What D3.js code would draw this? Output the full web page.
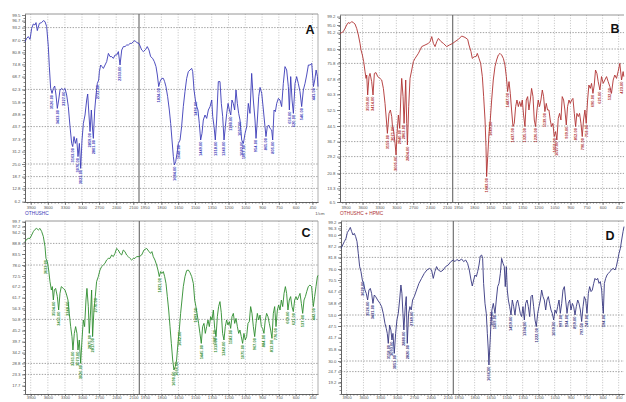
<!DOCTYPE html>
<html><head><meta charset="utf-8">
<script src="https://cdn.jsdelivr.net/npm/d3@7"></script>
<style>
body{margin:0;background:#fff;}
svg{display:block;font-family:"Liberation Sans",Arial,sans-serif;}
</style>
</head><body>
<svg id="c" width="626" height="402"></svg>
<script>
// ---------- DATA (wavenumber cm-1, %T) ----------
const specA = [[4000,86.2],[3971,87.8],[3942,88.7],[3912,87.3],[3883,92.8],[3854,95.0],[3825,94.5],[3807,95.7],[3784,91.7],[3748,95.3],[3708,95.7],[3678,96.7],[3649,96.2],[3620,93.7],[3591,83.7],[3573,73.7],[3550,62.8],[3526,60.3],[3503,62.8],[3479,64.0],[3456,59.5],[3433,52.8],[3409,57.0],[3386,62.0],[3357,62.8],[3327,62.0],[3298,62.8],[3269,59.5],[3240,53.7],[3210,43.7],[3181,35.3],[3163,33.7],[3140,38.7],[3117,35.3],[3093,37.8],[3070,28.7],[3046,35.3],[3023,22.8],[3000,37.0],[2976,45.3],[2947,49.5],[2918,57.0],[2900,60.0],[2883,52.0],[2859,41.2],[2836,52.0],[2818,43.7],[2801,37.8],[2777,52.0],[2754,59.5],[2731,65.3],[2707,67.0],[2695,71.2],[2672,74.5],[2649,73.7],[2625,72.8],[2596,74.5],[2567,76.2],[2537,80.3],[2508,78.7],[2479,78.7],[2450,77.8],[2420,79.5],[2391,79.5],[2362,81.2],[2333,74.5],[2303,82.0],[2274,83.7],[2245,83.7],[2216,84.5],[2186,84.5],[2157,85.3],[2128,85.3],[2099,86.2],[2070,86.7],[2040,85.7],[2000,85.3],
[1976,82.0],[1961,81.2],[1940,82.3],[1926,83.7],[1911,82.0],[1896,78.7],[1878,77.8],[1863,76.2],[1848,73.7],[1836,69.5],[1824,63.7],[1812,66.2],[1797,67.8],[1782,67.8],[1771,66.2],[1759,63.7],[1744,58.7],[1729,52.0],[1717,45.3],[1705,37.0],[1693,28.7],[1684,24.5],[1672,26.2],[1660,30.3],[1648,35.3],[1633,37.0],[1619,43.7],[1604,53.7],[1589,61.2],[1574,67.8],[1559,71.2],[1544,72.0],[1529,72.8],[1520,71.2],[1508,62.0],[1496,57.0],[1484,53.7],[1473,52.0],[1461,45.3],[1449,37.0],[1437,40.3],[1425,47.0],[1410,49.5],[1395,47.8],[1380,52.0],[1365,53.7],[1350,57.0],[1341,48.7],[1329,43.7],[1318,37.0],[1306,47.0],[1291,66.2],[1276,66.2],[1264,55.3],[1252,48.7],[1240,37.0],[1228,43.7],[1216,50.3],[1204,55.3],[1192,52.0],[1180,49.5],[1169,57.0],[1157,55.3],[1145,52.0],[1133,62.0],[1121,55.3],[1109,50.3],[1097,47.0],[1082,37.0],[1067,35.3],[1052,40.3],[1037,43.7],[1023,55.3],[1008,50.3],[993,70.3],[978,57.0],[963,47.0],[954,37.8],[942,47.0],[930,58.7],[918,63.3],[903,60.3],[888,52.0],[874,43.7],[865,38.7],[853,43.7],[841,44.5],[829,42.8],[814,42.0],[805,37.0],[793,52.0],[781,51.2],[769,55.3],[754,57.8],[740,57.0],[725,53.7],[710,65.3],[695,73.7],[680,72.0],[665,63.7],[656,52.0],[644,68.7],[632,57.0],[620,50.3],[605,65.3],[591,68.7],[576,65.3],[561,61.2],[546,53.7],[531,62.0],[516,65.3],[501,69.5],[486,74.5],[471,74.5],[456,75.3],[441,63.7],[429,67.0],[417,72.0],[405,68.7],[400,63.7]];

const specB = [[4000,90.8],[3970,91.2],[3941,91.7],[3911,93.3],[3882,95.0],[3852,96.2],[3822,95.8],[3793,96.7],[3763,96.2],[3734,95.5],[3704,93.3],[3674,90.0],[3645,85.8],[3627,82.5],[3603,80.0],[3580,76.7],[3556,71.7],[3538,68.3],[3526,70.0],[3509,60.0],[3485,69.2],[3467,70.8],[3438,66.7],[3414,60.0],[3390,70.8],[3361,71.2],[3331,69.2],[3290,68.3],[3260,67.5],[3230,63.3],[3201,55.8],[3177,47.5],[3159,40.8],[3130,50.8],[3106,52.5],[3082,49.2],[3071,45.0],[3047,41.7],[3023,35.8],[3005,30.0],[2988,40.8],[2964,50.0],[2940,43.3],[2923,57.5],[2905,68.3],[2881,59.2],[2863,45.8],[2846,57.5],[2834,67.5],[2816,45.8],[2804,35.0],[2781,54.2],[2757,68.3],[2727,72.5],[2698,76.7],[2668,78.3],[2609,80.8],[2550,84.2],[2491,85.0],[2431,85.8],[2402,86.7],[2372,89.2],[2343,85.8],[2313,84.2],[2283,86.7],[2254,88.3],[2207,86.7],[2165,85.8],[2107,84.2],[2059,85.0],[2000,85.8],
[1978,86.7],[1947,87.8],[1916,89.5],[1885,88.8],[1860,87.8],[1848,85.0],[1829,81.7],[1817,78.3],[1798,79.2],[1782,79.2],[1770,80.8],[1754,78.3],[1739,75.8],[1723,69.2],[1711,59.2],[1698,47.5],[1689,34.2],[1683,19.2],[1673,29.2],[1661,40.8],[1649,47.5],[1636,57.5],[1621,67.5],[1605,74.2],[1590,77.5],[1574,80.0],[1558,80.8],[1543,80.0],[1527,78.3],[1512,75.0],[1499,69.2],[1487,61.7],[1474,66.7],[1462,60.8],[1450,52.5],[1437,44.2],[1425,45.8],[1412,54.2],[1400,57.5],[1387,54.2],[1375,56.7],[1362,54.2],[1350,57.5],[1338,50.0],[1325,44.2],[1313,57.5],[1300,59.2],[1288,52.5],[1275,57.5],[1263,63.3],[1250,59.2],[1238,47.5],[1226,44.2],[1213,52.5],[1201,57.5],[1189,54.2],[1176,57.5],[1163,62.5],[1151,59.2],[1139,51.7],[1126,55.8],[1114,52.5],[1101,52.5],[1089,47.5],[1077,44.2],[1064,45.8],[1052,39.2],[1039,41.7],[1027,37.5],[1014,48.3],[1002,50.8],[989,47.5],[977,59.2],[964,57.5],[952,52.5],[939,45.0],[927,54.2],[914,57.5],[902,55.8],[889,57.5],[877,58.3],[864,50.8],[852,44.2],[840,50.8],[827,49.2],[815,50.8],[802,45.8],[790,39.2],[778,47.5],[765,52.5],[753,45.8],[740,57.5],[728,65.0],[715,63.3],[703,65.8],[690,60.8],[678,65.0],[666,72.5],[653,70.8],[641,66.7],[625,62.5],[610,69.2],[594,65.8],[579,67.5],[563,69.2],[548,66.7],[532,64.2],[517,60.8],[501,67.5],[486,70.0],[470,68.3],[455,71.7],[439,75.8],[423,67.5],[408,71.7],[402,69.2]];

const specC = [[4000,89.7],[3971,90.8],[3942,91.3],[3913,91.3],[3883,93.0],[3854,94.7],[3825,95.8],[3796,96.3],[3767,95.5],[3738,96.3],[3708,94.7],[3679,92.2],[3650,87.2],[3633,81.3],[3609,79.7],[3586,75.5],[3563,69.7],[3539,65.5],[3522,67.2],[3504,60.5],[3487,65.5],[3464,66.3],[3434,62.2],[3411,55.5],[3388,63.8],[3365,67.2],[3330,66.3],[3300,65.5],[3271,63.0],[3248,60.5],[3225,53.8],[3201,47.2],[3178,42.2],[3161,35.5],[3137,43.8],[3114,47.2],[3091,43.8],[3073,35.5],[3050,40.5],[3026,28.8],[3003,40.5],[2980,50.5],[2957,47.2],[2933,60.5],[2916,66.3],[2892,57.2],[2875,43.8],[2851,55.5],[2834,65.5],[2817,42.2],[2794,55.5],[2770,62.2],[2747,69.7],[2717,72.2],[2688,75.5],[2659,77.2],[2630,78.0],[2601,78.8],[2572,80.5],[2543,81.3],[2513,81.3],[2484,83.0],[2455,82.2],[2426,83.8],[2397,86.3],[2368,85.5],[2338,83.8],[2309,83.0],[2280,85.5],[2251,84.7],[2222,83.0],[2193,82.2],[2163,81.3],[2134,80.5],[2105,81.3],[2076,81.3],[2047,82.2],[2000,82.2],
[1979,83.0],[1958,85.5],[1934,86.3],[1913,84.7],[1899,83.8],[1887,84.7],[1875,82.2],[1860,80.5],[1845,78.0],[1833,75.5],[1821,72.2],[1809,74.7],[1797,73.8],[1785,74.7],[1773,72.2],[1761,68.8],[1749,62.2],[1737,55.5],[1725,47.2],[1713,38.8],[1701,30.5],[1690,25.5],[1678,27.2],[1666,30.5],[1654,38.8],[1642,45.5],[1630,53.8],[1618,60.5],[1606,67.2],[1591,72.2],[1576,75.2],[1561,75.5],[1546,74.2],[1531,72.2],[1516,68.8],[1504,60.5],[1493,57.2],[1481,53.0],[1469,48.8],[1457,43.8],[1445,38.8],[1433,47.2],[1421,48.8],[1409,43.8],[1397,47.2],[1385,50.5],[1373,47.2],[1361,52.2],[1349,50.5],[1337,55.5],[1325,46.3],[1313,42.2],[1301,52.2],[1290,57.2],[1278,59.7],[1266,54.2],[1254,43.8],[1242,40.5],[1230,47.2],[1218,50.5],[1206,48.0],[1194,49.7],[1182,46.3],[1170,52.2],[1158,53.8],[1146,48.8],[1134,51.3],[1122,47.2],[1110,43.8],[1099,45.5],[1087,42.2],[1075,38.8],[1063,43.8],[1051,40.5],[1039,42.2],[1027,48.8],[1015,49.7],[1003,57.2],[991,53.8],[979,47.2],[967,42.2],[955,48.8],[943,53.8],[931,50.5],[919,53.0],[907,47.2],[896,46.3],[884,43.8],[872,50.5],[860,53.8],[848,52.2],[836,48.8],[824,45.5],[812,41.3],[800,53.8],[788,57.2],[776,47.2],[764,55.5],[752,58.0],[740,55.5],[728,60.5],[716,57.2],[704,63.8],[692,67.2],[681,63.8],[669,55.5],[657,60.5],[645,62.2],[633,57.2],[621,54.7],[609,60.5],[597,62.2],[585,60.5],[573,62.2],[561,63.8],[549,58.8],[537,53.8],[525,60.5],[513,62.2],[501,64.7],[487,67.2],[472,68.0],[457,67.2],[442,57.2],[430,62.2],[418,67.2],[406,72.0],[400,72.8]];

const specD = [[4000,86.3],[3970,88.0],[3941,89.7],[3911,91.3],[3887,94.2],[3858,95.5],[3834,96.8],[3810,94.7],[3787,93.0],[3763,93.8],[3739,92.2],[3715,89.7],[3692,83.8],[3668,77.2],[3644,74.7],[3620,70.5],[3597,68.8],[3573,65.5],[3550,63.8],[3526,60.5],[3502,65.5],[3478,66.3],[3455,63.8],[3431,58.8],[3407,63.0],[3383,62.2],[3348,60.5],[3306,58.8],[3277,57.2],[3247,53.8],[3217,48.8],[3194,46.3],[3176,43.8],[3158,38.8],[3134,48.0],[3111,45.5],[3093,40.5],[3075,43.8],[3051,33.8],[3027,43.8],[3004,50.5],[2980,53.8],[2956,60.5],[2933,68.0],[2915,63.8],[2897,53.8],[2880,45.5],[2856,57.2],[2838,62.2],[2820,38.8],[2796,53.8],[2773,57.2],[2749,55.5],[2725,60.5],[2695,62.2],[2654,65.5],[2612,68.8],[2565,71.3],[2517,73.8],[2470,75.5],[2423,76.3],[2387,75.5],[2357,71.3],[2328,74.7],[2298,77.2],[2268,75.5],[2221,74.7],[2180,75.5],[2138,77.2],[2091,78.0],[2043,79.7],[2000,80.5],
[1984,79.7],[1966,80.8],[1947,80.0],[1922,81.0],[1903,79.7],[1884,80.5],[1866,78.8],[1850,75.5],[1834,70.5],[1822,67.5],[1809,70.5],[1797,73.0],[1784,72.2],[1772,74.7],[1759,78.0],[1747,82.5],[1734,83.0],[1725,81.3],[1716,68.8],[1703,58.8],[1691,53.8],[1681,43.8],[1672,35.5],[1666,28.0],[1656,38.8],[1647,48.8],[1638,55.5],[1625,58.8],[1609,53.8],[1597,60.5],[1584,67.2],[1572,68.8],[1559,73.8],[1547,81.3],[1534,78.8],[1522,77.2],[1513,67.2],[1503,77.2],[1494,65.5],[1484,60.5],[1472,57.2],[1459,53.0],[1447,60.5],[1434,57.2],[1422,53.0],[1409,58.8],[1397,60.5],[1384,57.2],[1372,53.8],[1359,52.2],[1347,57.2],[1334,50.5],[1322,58.8],[1309,60.5],[1297,57.2],[1284,52.2],[1272,62.2],[1259,63.0],[1247,57.2],[1234,50.5],[1222,47.2],[1209,53.8],[1197,57.2],[1184,60.5],[1172,65.5],[1159,62.2],[1147,60.5],[1134,55.5],[1122,60.5],[1109,62.2],[1097,58.8],[1084,55.5],[1072,53.8],[1059,50.5],[1047,55.5],[1034,53.8],[1022,57.2],[1009,60.5],[997,53.8],[984,58.8],[972,65.5],[959,67.2],[947,60.5],[934,53.8],[922,58.8],[909,60.5],[897,55.5],[884,58.8],[872,57.2],[859,53.0],[847,57.2],[834,60.5],[822,58.8],[809,55.5],[797,49.7],[784,57.2],[772,62.2],[759,60.5],[747,53.8],[734,63.8],[722,67.2],[709,64.7],[697,65.5],[684,68.8],[672,71.3],[659,70.5],[647,71.3],[634,68.8],[622,69.7],[609,65.5],[600,57.2],[594,53.8],[584,68.8],[572,71.3],[559,73.0],[547,73.8],[531,74.7],[516,75.8],[500,76.3],[484,75.5],[472,77.2],[459,80.5],[447,83.8],[434,86.3],[422,90.5],[409,94.7],[400,97.2]];

// labelled peaks (cm-1)
const peaksA = [3526,3433,3327,3163,3070,3023,2859,2801,2731,2333,1824,1684,1648,1496,1449,1318,1240,1180,1097,1082,1067,954,865,805,656,620,546,441];
const peaksB = [3509,3414,3159,3071,3005,2940,2863,2804,1683,1649,1487,1437,1325,1226,1139,1052,1027,939,852,790,753,690,625,532,423];
const peaksC = [3633,3504,3411,3248,3161,3073,3026,2875,2817,2770,1821,1690,1666,1642,1493,1445,1325,1313,1242,1182,1075,967,884,812,776,669,621,537,442];
const peaksD = [3620,3526,3431,3158,3093,3051,2880,2820,2749,1666,1638,1609,1459,1334,1222,1059,997,934,859,797,747,594];

// axis ticks
const xTicksLeft  = [3900,3600,3300,3000,2700,2400,2100];
const xTicksRight = [1950,1800,1650,1500,1350,1200,1050,900,750,600,450];
const yTicksA = [99.5,96.7,93.2,87,80.8,74.8,68.7,62.3,55.8,49.8,43.7,37.3,31.2,25,18.7,12.8,6.2];
const yGridA  = [93.2,62.3,43.7,25,18.7,12.8];
const yTicksB = [99.2,95,91.2,83,75.8,67.8,60.3,52.5,44.5,36.7,29.2,20.8,13.3,6.5];
const yGridB  = [91.2,83,75.8,44.5,36.7,29.2,20.8,13.3];
const yTicksC = [99.7,97.2,94.2,88.8,83.5,78,72.5,67.2,61.7,56.3,50.8,45.2,39.7,34.2,28.8,23.3,17.7];
const yGridC  = [88.8,78,50.8,28.8,23.3];
const yTicksD = [99.2,96.3,93,87.2,81.8,76,70.5,64.7,58.8,53,47.5,41.7,35.8,30,24.7,19.2];
const yGridD  = [87.2,81.8,76,53,47.5,30,24.7];

const panelNames = ["A","B","C","D"];
const sampleNames = ["OTHUSHC","OTHUSHC + HPMC","",""];

// ---------- LAYOUT ----------
const layout = [
  {data:specA, peaks:peaksA, yt:yTicksA, yg:yGridA, yd:[6,100],    color:"#3b3bb8", xr:[25,139,318],    yr:[202,14],  letter:[310,34], tk:3, tp:1.5},
  {data:specB, peaks:peaksB, yt:yTicksB, yg:yGridB, yd:[6.5,100],  color:"#b03232", xr:[340,452.7,624], yr:[202,15],  letter:[615,33], tk:3, tp:1.5},
  {data:specC, peaks:peaksC, yt:yTicksC, yg:yGridC, yd:[13.5,100], color:"#2e8c2e", xr:[25,139.3,318],  yr:[394,221], letter:[306,237], tk:2, tp:0.4},
  {data:specD, peaks:peaksD, yt:yTicksD, yg:yGridD, yd:[13.5,100], color:"#35357f", xr:[341,453.3,624], yr:[394,221], letter:[610,240], tk:2, tp:0.4}
];

const svg = d3.select("#c");
const fmtT = d3.format(".1f");
const fmtW = d3.format(".2f");

layout.forEach((p, i) => {
  const x = d3.scaleLinear().domain([4000,2000,400]).range(p.xr);
  const y = d3.scaleLinear().domain(p.yd).range(p.yr);
  const g = svg.append("g");
  const [x0, xb, x1] = p.xr;
  const [yb, yt] = p.yr;

  // vertical grid
  g.append("g").selectAll("line").data(xTicksLeft.concat(xTicksRight)).join("line")
    .attr("x1", d => x(d)).attr("x2", d => x(d)).attr("y1", yt).attr("y2", yb)
    .attr("stroke", "#a8a8a8").attr("stroke-width", 0.7).attr("stroke-dasharray", "1,1.6");
  // horizontal grid
  g.append("g").selectAll("line").data(p.yg).join("line")
    .attr("x1", x0).attr("x2", x1).attr("y1", d => y(d)).attr("y2", d => y(d))
    .attr("stroke", "#8a8a8a").attr("stroke-width", 0.8).attr("stroke-dasharray", "1.4,1.4");

  // frame
  g.append("line").attr("x1", x0).attr("x2", x1).attr("y1", yt).attr("y2", yt)
    .attr("stroke", "#8a8a8a").attr("stroke-width", 0.9);
  if (i % 2 === 0) {
    g.append("line").attr("x1", x1).attr("x2", x1).attr("y1", yt).attr("y2", yb)
      .attr("stroke", "#9a9a9a").attr("stroke-width", 0.8);
  }
  // scale break line
  g.append("line").attr("x1", xb).attr("x2", xb).attr("y1", yt).attr("y2", yb)
    .attr("stroke", "#666").attr("stroke-width", 1.1);

  // axes
  const minorX = d3.range(3960, 2000, -60).concat(d3.range(1980, 399, -30));
  const ax = g.append("g").attr("transform", `translate(0,${yb})`);
  ax.call(d3.axisBottom(x).tickValues(minorX).tickSize(1.6).tickSizeOuter(0).tickFormat(""));
  ax.append("g").call(d3.axisBottom(x).tickValues(xTicksLeft.concat(xTicksRight)).tickSize(p.tk).tickSizeOuter(0).tickPadding(p.tp).tickFormat(d3.format("d")));
  ax.selectAll("path,line").attr("stroke", "#555").attr("stroke-width", 0.7);
  ax.selectAll("text").attr("font-size", 4.1).attr("fill", "#555").attr("font-family", "Liberation Sans, Arial, sans-serif");

  const minorY = d3.range(p.yd[0], 100, 2);
  const ay = g.append("g").attr("transform", `translate(${x0},0)`);
  ay.call(d3.axisLeft(y).tickValues(minorY).tickSize(1.5).tickSizeOuter(0).tickFormat(""));
  ay.append("g").call(d3.axisLeft(y).tickValues(p.yt).tickSize(3).tickSizeOuter(0).tickPadding(1.5).tickFormat(fmtT));
  ay.selectAll("path,line").attr("stroke", "#555").attr("stroke-width", 0.7);
  ay.selectAll("text").attr("font-size", 4.3).attr("fill", "#555").attr("font-family", "Liberation Sans, Arial, sans-serif");

  // spectrum
  const line = d3.line().x(d => x(d[0])).y(d => y(d[1]));
  g.append("path").datum(p.data).attr("d", line)
    .attr("fill", "none").attr("stroke", p.color).attr("stroke-width", 0.9).attr("stroke-linejoin", "round");

  // peak labels
  const near = w => p.data.reduce((a, b) => Math.abs(b[0] - w) < Math.abs(a[0] - w) ? b : a);
  g.append("g").selectAll("text").data(p.peaks.map(near)).join("text")
    .attr("transform", d => `translate(${x(d[0])},${y(d[1]) + 1.5}) rotate(-90)`)
    .attr("text-anchor", "end").attr("dy", "0.35em")
    .attr("font-size", 4).attr("font-weight", "bold").attr("fill", p.color)
    .text(d => fmtW(d[0]));

  // panel letter
  g.append("text").attr("x", p.letter[0]).attr("y", p.letter[1])
    .attr("text-anchor", "middle").attr("font-size", 12.5).attr("font-weight", "bold")
    .attr("font-family", "Liberation Sans, Arial, sans-serif").attr("fill", "#111")
    .text(panelNames[i]);

  // footer texts
  if (sampleNames[i]) {
    g.append("text").attr("x", x0).attr("y", yb + 13).attr("font-size", 4.8)
      .attr("fill", p.color).text(sampleNames[i]);
  }
  if (i === 0) {
    g.append("text").attr("x", x1 + 2).attr("y", yb + 12.5).attr("text-anchor", "middle")
      .attr("font-size", 4.3).attr("fill", "#555").text("1/cm");
  }
});
</script>
</body></html>
